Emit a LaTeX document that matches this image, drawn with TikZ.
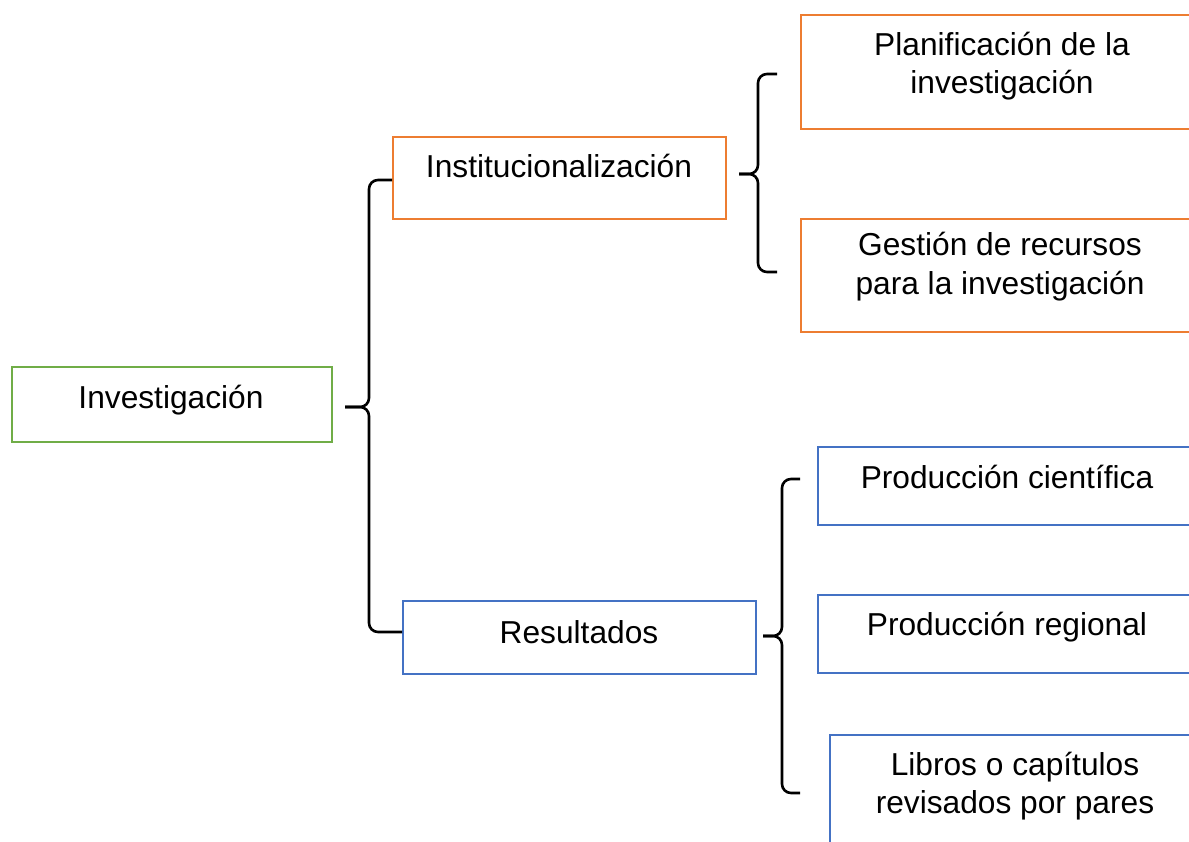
\documentclass[tikz,border=0pt]{standalone}
\usepackage{fontspec}
\setmainfont{Liberation Sans}
\definecolor{boxorange}{HTML}{ED7D31}
\definecolor{boxblue}{HTML}{4472C4}
\definecolor{boxgreen}{HTML}{70AD47}
\begin{document}
\begin{tikzpicture}[x=1pt,y=1pt,
  box/.style={draw,line width=1.8pt,inner sep=0pt,anchor=north west},
  txt/.style={font=\fontsize{31.7}{38}\selectfont,inner sep=0pt,anchor=base,align=center},
  bracepath/.style={line width=2.6pt,rounded corners=9pt}]
\useasboundingbox (0,0) rectangle (1189,-842);
\clip (0,0) rectangle (1189,-842);
\fill[white] (0,0) rectangle (1189,-842);

% boxes
\node[box,draw=boxgreen,minimum width=320,minimum height=75] (inv) at (11,-366) {};
\node[box,draw=boxorange,minimum width=333,minimum height=82] (inst) at (392,-136) {};
\node[box,draw=boxblue,minimum width=353,minimum height=73] (res) at (402,-600) {};
\node[box,draw=boxorange,minimum width=420,minimum height=114] (plan) at (800,-14) {};
\node[box,draw=boxorange,minimum width=420,minimum height=113] (gest) at (800,-218) {};
\node[box,draw=boxblue,minimum width=420,minimum height=78] (prodc) at (817,-446) {};
\node[box,draw=boxblue,minimum width=420,minimum height=78] (prodr) at (817,-594) {};
\node[box,draw=boxblue,minimum width=420,minimum height=140] (libros) at (829,-734) {};

% texts
\node[txt] (tinv) at (171,-408) {Investigación};
\node[txt] (tinst) at (559,-178) {Institucionalización};
\node[txt] (tres) at (579,-643) {Resultados};
\node[txt] (tplan1) at (1002,-56) {Planificación de la};
\node[txt] (tplan2) at (1002,-94) {investigación};
\node[txt] (tgest1) at (1000,-256) {Gestión de recursos};
\node[txt] (tgest2) at (1000,-295) {para la investigación};
\node[txt] (tprodc) at (1007,-488) {Producción científica};
\node[txt] (tprodr) at (1007,-635) {Producción regional};
\node[txt] (tlib1) at (1015,-775) {Libros o capítulos};
\node[txt] (tlib2) at (1015,-813) {revisados por pares};

% brace 1
\coordinate (b1t) at (inst.west |- 0,-180);
\coordinate (b1m) at (345,-407);
\coordinate (b1b) at (res.west |- 0,-632);
\draw[bracepath] (b1t) -- (369,-180) -- (369,-407) -- (b1m);
\draw[bracepath] (b1m) -- (369,-407) -- (369,-632) -- (b1b);

% brace 2
\coordinate (b2t) at (777,-74);
\coordinate (b2m) at (739,-174);
\coordinate (b2b) at (777,-272);
\draw[bracepath] (b2t) -- (758,-74) -- (758,-174) -- (b2m);
\draw[bracepath] (b2m) -- (758,-174) -- (758,-272) -- (b2b);

% brace 3
\coordinate (b3t) at (800,-479);
\coordinate (b3m) at (763,-636);
\coordinate (b3b) at (800,-793);
\draw[bracepath] (b3t) -- (782,-479) -- (782,-636) -- (b3m);
\draw[bracepath] (b3m) -- (782,-636) -- (782,-793) -- (b3b);
\end{tikzpicture}
\end{document}
